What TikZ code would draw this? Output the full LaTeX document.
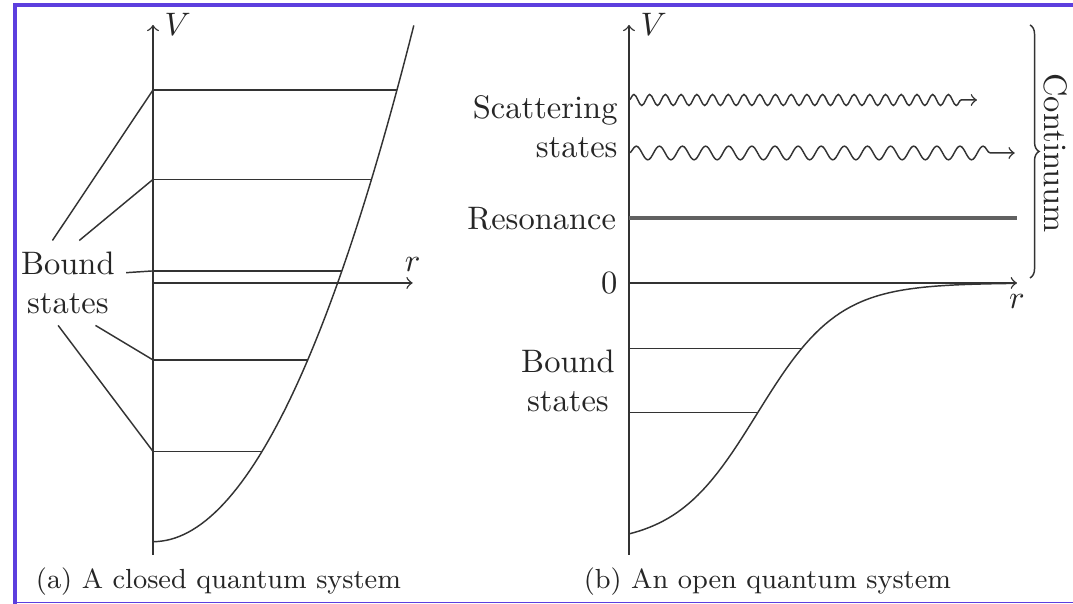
\documentclass[tikz,border=0pt]{standalone}
\usepackage{tikz}
\usetikzlibrary{decorations.pathmorphing, decorations.pathreplacing}
\definecolor{framecol}{RGB}{92,62,222}

\begin{document}
\begin{tikzpicture}[
  every node/.style={text=black!85},
  axis/.style={->, black!80, line width=0.45pt},
  curve/.style={black!80, line width=0.45pt},
  level/.style={black!80, line width=0.45pt},
  leader/.style={black!80, line width=0.45pt},
  resonance/.style={black!62, line width=1.3pt},
  wave/.style={->, black!80, line width=0.45pt, decorate, decoration={snake, post length=1.5mm}},
  caption/.style={font=\fontsize{8.5}{10}\selectfont}
]
  \useasboundingbox (-1.654,-3.470) rectangle (9.946,3.059);

  % frame of the screenshot
  \draw[framecol, line width=1.2pt] (-1.494,-3.470) -- (-1.494,3.008) -- (9.946,3.008);
  \draw[framecol, line width=0.3pt] (-1.494,-3.454) -- (9.946,-3.454);

  % (a) closed system
  \draw[axis] (0,-2.94) -- (0,2.79) node[right] (v1) {$V$};
  \draw[axis] (0,0) -- (2.807,0) node[above] (r1) {$r$};
  \draw[curve] plot[domain=0:2.82, samples=60] (\x, {-2.797+0.702*\x*\x});
  \foreach \y/\x [count=\i] in {2.086/2.637, 1.119/2.362, 0.130/2.042, -0.832/1.673, -1.821/1.179}
    \draw[level] (0,\y) coordinate (l\i) -- (\x,\y);

  \node[align=center] (bs1) at (-0.92,0) {Bound\\states};
  \draw[leader] (bs1.110) -- (l1);
  \draw[leader] (bs1.75) -- (l2);
  \draw[leader] (bs1.10) -- (l3);
  \draw[leader] (bs1.303) -- (l4);
  \draw[leader] (bs1.257) -- (l5);

  \node[caption] (capa) at (0.708,-3.232) {(a) A closed quantum system};

  % (b) open system
  \begin{scope}[shift={(5.146,0)}]
    \draw[axis] (0,-2.94) -- (0,2.79) node[right] (v2) {$V$};
    \draw[axis] (0,0) node[left] (zero) {$0$} -- (4.194,0) node[below] (r2) {$r$};
    \draw[curve] plot[domain=0:4.19, samples=80] (\x, {-2.83/(1+exp((\x-1.384)/0.44))});
    \draw[level] (0,-0.706) -- (1.869,-0.706);
    \draw[level] (0,-1.398) -- (1.395,-1.398);
    \node[left, align=center] (bs2) at (-0.03,-1.06) {Bound\\states};

    \draw[resonance] (0,0.699) node[left] (res) {Resonance} -- (4.194,0.699);

    \node[left, align=right] (scat) at (0,1.69) {Scattering\\states};
    \draw[wave, decoration={amplitude=1.7pt, segment length=0.17cm}] (0,1.978) -- (3.762,1.978);
    \draw[wave, decoration={amplitude=2.1pt, segment length=0.25cm}] (0,1.405) -- (4.17,1.405);

    \draw[black!80, line width=0.45pt, decorate, decoration={brace, amplitude=2.8pt}] (4.335,2.789) -- (4.335,0.054);
    \node[rotate=-90] (cont) at (4.616,1.405) {Continuum};

    \node[caption] (capb) at (1.497,-3.232) {(b) An open quantum system};
  \end{scope}
\end{tikzpicture}
\end{document}
